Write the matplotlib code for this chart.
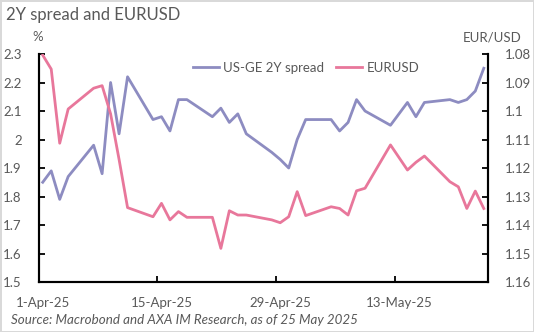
import numpy as np
import pandas as pd
import matplotlib
matplotlib.use("Agg")
from matplotlib import pyplot as plt
from matplotlib.ticker import FuncFormatter

plt.rcParams['font.family'] = ['Lato', 'DejaVu Sans']

# business days shown on the chart
dates = pd.to_datetime([
    "2025-04-01", "2025-04-02", "2025-04-03", "2025-04-04",
    "2025-04-07", "2025-04-08", "2025-04-09", "2025-04-10", "2025-04-11",
    "2025-04-14", "2025-04-15", "2025-04-16", "2025-04-17", "2025-04-18",
    "2025-04-21", "2025-04-22", "2025-04-23", "2025-04-24", "2025-04-25",
    "2025-04-28", "2025-04-29", "2025-04-30", "2025-05-01", "2025-05-02",
    "2025-05-05", "2025-05-06", "2025-05-07", "2025-05-08", "2025-05-09",
    "2025-05-12", "2025-05-13", "2025-05-14", "2025-05-15", "2025-05-16",
    "2025-05-19", "2025-05-20", "2025-05-21", "2025-05-22", "2025-05-23",
])

spread = [1.85, 1.89, 1.79, 1.87,
          1.98, 1.88, 2.20, 2.02, 2.22,
          2.07, 2.08, 2.03, 2.14, 2.14,
          2.08, 2.11, 2.06, 2.09, 2.02,
          1.955, 1.93, 1.90, 2.00, 2.07,
          2.07, 2.03, 2.06, 2.14, 2.10,
          2.05, 2.09, 2.13, 2.08, 2.13,
          2.14, 2.13, 2.14, 2.17, 2.25]

eurusd = [1.0804, 1.0853, 1.1113, 1.0993,
          1.0920, 1.0911, 1.1010, 1.1170, 1.1339,
          1.1371, 1.1324, 1.1382, 1.1353, 1.1373,
          1.1373, 1.1482, 1.1350, 1.1365, 1.1365,
          1.1382, 1.1392, 1.1371, 1.1283, 1.1367,
          1.1336, 1.1342, 1.1365, 1.1280, 1.1271,
          1.1119, 1.1163, 1.1207, 1.1180, 1.1158,
          1.1248, 1.1266, 1.1342, 1.1281, 1.1342]

tick_dates = pd.to_datetime(["2025-04-01", "2025-04-15", "2025-04-29", "2025-05-13"])
tick_labels = ["1-Apr-25", "15-Apr-25", "29-Apr-25", "13-May-25"]

purple = "#8d8cc1"
pink = "#e8779b"
grey = "#595959"

fig = plt.figure(figsize=(5.34, 3.32), dpi=100)
fig.patch.set_edgecolor("#d9d9d9")
fig.patch.set_linewidth(1)
ax = fig.add_axes([0.0721, 0.1506, 0.8418, 0.6867])
ax2 = ax.twinx()

l1, = ax.plot(dates, spread, color=purple, lw=2.0, label="US-GE 2Y spread")
l2, = ax2.plot(dates, eurusd, color=pink, lw=2.0, label="EURUSD")

half = pd.Timedelta(hours=12)
ax.set_xlim(dates[0] - half, dates[-1] + half)
ax.set_ylim(1.5, 2.3)
ax.set_yticks(np.arange(1.5, 2.31, 0.1))
ax2.set_ylim(1.16, 1.08)
ax2.set_yticks(np.arange(1.08, 1.161, 0.01))

fmt = FuncFormatter(lambda v, p: "%g" % round(v, 2))
ax.yaxis.set_major_formatter(fmt)
ax2.yaxis.set_major_formatter(fmt)

ax.set_xticks(tick_dates)
ax.set_xticklabels(tick_labels)
ax.set_xticks([d - half for d in tick_dates], minor=True)
ax.tick_params(axis="x", which="major", length=0, pad=11, labelsize=9.5, labelcolor=grey)
ax.tick_params(axis="x", which="minor", length=4, width=1.3, direction="in")
ax.tick_params(axis="y", length=4, width=1.3, direction="in", pad=12, labelsize=9.5, labelcolor=grey)
ax2.tick_params(axis="y", length=4, width=1.3, direction="in", pad=12, labelsize=9.5, labelcolor=grey)

for a in (ax, ax2):
    a.spines["top"].set_visible(False)
    for s in ("left", "right", "bottom"):
        a.spines[s].set_linewidth(1.5)
        a.spines[s].set_color("black")

fig.text(0.012, 0.955, "2Y spread and EURUSD", fontsize=12, color=grey, va="center")
fig.text(0.07, 0.888, "%", fontsize=9.5, color=grey, ha="center", va="center")
fig.text(0.922, 0.888, "EUR/USD", fontsize=9.5, color=grey, ha="center", va="center")
fig.text(0.02, 0.035, "Source: Macrobond and AXA IM Research, as of 25 May 2025",
         fontsize=9.6, style="italic", color=grey, va="center")

leg = ax.legend(handles=[l1, l2], loc="center", bbox_to_anchor=(0.595, 0.939),
                ncol=2, frameon=False, fontsize=9.5, handlelength=2.0,
                columnspacing=0.9, handletextpad=0.3)
for t in leg.get_texts():
    t.set_color(grey)

fig.savefig("out.png", dpi=100)
